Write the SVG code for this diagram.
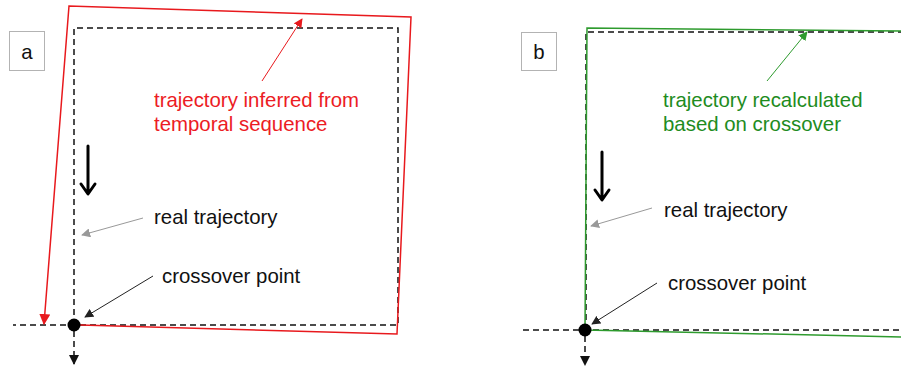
<svg xmlns="http://www.w3.org/2000/svg" width="901" height="368" viewBox="0 0 901 368">
  <style>
    .lbl { font-family: "Liberation Sans", Arial, sans-serif; font-size: 20.4px; fill: #111; }
    .red { fill: #ec1c24; }
    .grn { fill: #1e8c1e; }
    .box { fill: #fff; stroke: #b3b3b3; stroke-width: 1; }
    .dash { fill: none; stroke: #111; stroke-width: 1.5; stroke-dasharray: 6 4; }
    .thin { fill: none; stroke-width: 1; }
  </style>
  <defs>
    <marker id="headRed" viewBox="0 0 10 10" refX="9" refY="5" markerWidth="9" markerHeight="9" markerUnits="userSpaceOnUse" orient="auto">
      <path d="M0,0 L10,5 L0,10 z" fill="#e8191d"/>
    </marker>
    <marker id="headRedBig" viewBox="0 0 10 10" refX="9" refY="5" markerWidth="11" markerHeight="11" markerUnits="userSpaceOnUse" orient="auto">
      <path d="M0,0 L10,5 L0,10 z" fill="#e8191d"/>
    </marker>
    <marker id="headGrn" viewBox="0 0 10 10" refX="9" refY="5" markerWidth="9" markerHeight="9" markerUnits="userSpaceOnUse" orient="auto">
      <path d="M0,0 L10,5 L0,10 z" fill="#2e9b2e"/>
    </marker>
    <marker id="headBlk" viewBox="0 0 10 10" refX="9" refY="5" markerWidth="9" markerHeight="9" markerUnits="userSpaceOnUse" orient="auto">
      <path d="M0,0 L10,5 L0,10 z" fill="#222"/>
    </marker>
    <marker id="headGry" viewBox="0 0 10 10" refX="9" refY="5" markerWidth="9" markerHeight="9" markerUnits="userSpaceOnUse" orient="auto">
      <path d="M0,0 L10,5 L0,10 z" fill="#999"/>
    </marker>
    <marker id="headDown" viewBox="0 0 10 10" refX="9" refY="5" markerWidth="10" markerHeight="10" markerUnits="userSpaceOnUse" orient="auto">
      <path d="M0,0 L10,5 L0,10 z" fill="#111"/>
    </marker>
  </defs>

  <!-- panel a -->
  <g id="panel-a-label">
    <rect class="box" x="9.5" y="31.5" width="35" height="39"/>
    <text class="lbl" x="27" y="59" text-anchor="middle">a</text>
  </g>
  <g id="panel-a-real">
    <path class="dash" d="M74,325 L74,28 L398,28 L398,325 L13,325"/>
    <path class="dash" d="M74,331 L74,364" marker-end="url(#headDown)"/>
  </g>
  <g id="panel-a-inferred">
    <path fill="none" stroke="#e8191d" stroke-width="1.5" d="M80,325 L397,334 L411,17 L69,6 L44,324" marker-end="url(#headRedBig)"/>
  </g>
  <g id="panel-a-crossover">
    <circle cx="74" cy="325" r="6.5" fill="#000"/>
  </g>
  <g id="panel-a-direction">
    <path d="M88,146 L88,193 M81,184 L88,194 L95,184" fill="none" stroke="#000" stroke-width="3" stroke-linecap="round" stroke-linejoin="round"/>
  </g>
  <g id="panel-a-texts">
    <text class="lbl red" x="154" y="107">trajectory inferred from</text>
    <text class="lbl red" x="154" y="131">temporal sequence</text>
    <text class="lbl" x="154" y="224">real trajectory</text>
    <text class="lbl" x="162" y="283">crossover point</text>
  </g>

  <!-- panel b -->
  <g id="panel-b-label">
    <rect class="box" x="521.5" y="32.5" width="35" height="38"/>
    <text class="lbl" x="539" y="59" text-anchor="middle">b</text>
  </g>
  <g id="panel-b-real">
    <path class="dash" d="M586,330 L586,32 L905,32"/>
    <path class="dash" d="M523,330 L905,330"/>
    <path class="dash" d="M585,336 L585,365" marker-end="url(#headDown)"/>
  </g>
  <g id="panel-b-recalculated">
    <path fill="none" stroke="#2e9b2e" stroke-width="1.5" d="M905,31 L587,28 L585,330 L905,337"/>
  </g>
  <g id="panel-b-crossover">
    <circle cx="585" cy="330" r="6.5" fill="#000"/>
  </g>
  <g id="panel-b-direction">
    <path d="M602,152 L602,199 M595,190 L602,200 L609,190" fill="none" stroke="#000" stroke-width="3" stroke-linecap="round" stroke-linejoin="round"/>
  </g>
  <g id="panel-b-texts">
    <text class="lbl grn" x="663" y="107">trajectory recalculated</text>
    <text class="lbl grn" x="663" y="131">based on crossover</text>
    <text class="lbl" x="664" y="217">real trajectory</text>
    <text class="lbl" x="668" y="290">crossover point</text>
  </g>

  <!-- annotation connectors -->
  <g id="connectors">
    <line class="thin" stroke="#e8191d" x1="262" y1="81" x2="302" y2="19" marker-end="url(#headRed)"/>
    <line class="thin" stroke="#999" x1="143" y1="218" x2="82" y2="235" marker-end="url(#headGry)"/>
    <line class="thin" stroke="#222" x1="153" y1="276" x2="85" y2="317" marker-end="url(#headBlk)"/>
    <line class="thin" stroke="#2e9b2e" x1="767" y1="81" x2="807" y2="32" marker-end="url(#headGrn)"/>
    <line class="thin" stroke="#999" x1="652" y1="208" x2="591" y2="226" marker-end="url(#headGry)"/>
    <line class="thin" stroke="#222" x1="657" y1="283" x2="592" y2="324" marker-end="url(#headBlk)"/>
  </g>
</svg>
